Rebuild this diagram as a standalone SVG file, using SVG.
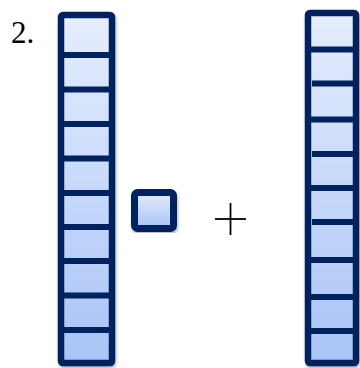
<svg xmlns="http://www.w3.org/2000/svg" width="360" height="368" viewBox="0 0 360 368">
<style>
.frame{stroke:#04215f;stroke-width:6.5;stroke-linejoin:round}
.div{stroke:#04215f;stroke-width:6}
.lbl{font-family:"Liberation Serif",serif;font-size:31px;fill:#000}
.plus{stroke:#000;stroke-width:1.8}
</style>
<defs>
<linearGradient id="gcol" x1="0" y1="0" x2="0" y2="1">
<stop offset="0" stop-color="#e6eefd"/>
<stop offset="1" stop-color="#a8c3f7"/>
</linearGradient>
<linearGradient id="gsq" x1="0" y1="0" x2="0" y2="1">
<stop offset="0" stop-color="#e2ebfd"/>
<stop offset="1" stop-color="#a9c4f8"/>
</linearGradient>
<filter id="sh" x="-20%" y="-10%" width="140%" height="120%">
<feDropShadow dx="1" dy="2" stdDeviation="1.5" flood-color="#000" flood-opacity="0.3"/>
</filter>
</defs>
<text class="lbl" x="11" y="43">2.</text>
<g id="left-column" filter="url(#sh)">
<rect class="frame" x="61" y="15" width="51" height="348" rx="2" fill="url(#gcol)"/>
<g class="div">
<line x1="61" y1="55" x2="112" y2="55"/>
<line x1="61" y1="89.5" x2="112" y2="89.5"/>
<line x1="61" y1="124" x2="112" y2="124"/>
<line x1="61" y1="158.5" x2="112" y2="158.5"/>
<line x1="61" y1="193" x2="112" y2="193"/>
<line x1="61" y1="227" x2="112" y2="227"/>
<line x1="61" y1="261" x2="112" y2="261"/>
<line x1="61" y1="295.5" x2="112" y2="295.5"/>
<line x1="61" y1="330" x2="112" y2="330"/>
</g>
</g>
<g id="square" filter="url(#sh)">
<rect x="134.5" y="192.5" width="39" height="36" rx="3" fill="url(#gsq)" stroke="#04215f" stroke-width="7"/>
</g>
<g id="plus">
<line class="plus" x1="215" y1="219" x2="246" y2="219"/>
<line class="plus" x1="230.5" y1="203" x2="230.5" y2="235"/>
</g>
<g id="right-column" filter="url(#sh)">
<rect class="frame" x="308" y="13" width="48" height="350" rx="2" fill="url(#gcol)"/>
<g class="div">
<line x1="310" y1="49.5" x2="356" y2="49.5"/>
<line x1="312" y1="83.5" x2="356" y2="83.5"/>
<line x1="310" y1="119.5" x2="356" y2="119.5"/>
<line x1="312" y1="154" x2="356" y2="154"/>
<line x1="310" y1="188" x2="356" y2="188"/>
<line x1="312" y1="222" x2="356" y2="222"/>
<line x1="310" y1="260" x2="356" y2="260"/>
<line x1="310" y1="297" x2="356" y2="297"/>
<line x1="310" y1="331" x2="356" y2="331"/>
</g>
</g>
</svg>
